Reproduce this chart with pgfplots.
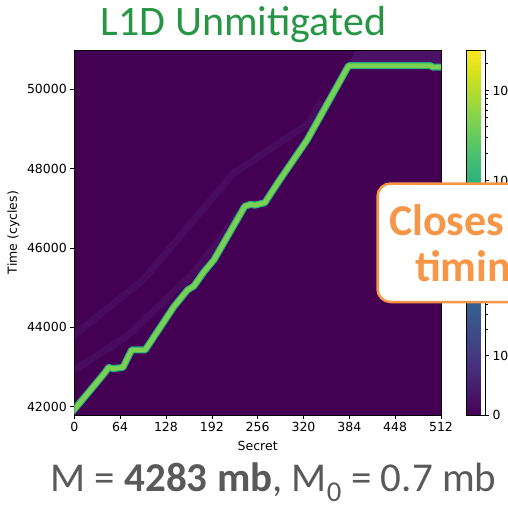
\documentclass[border=0pt]{standalone}
\usepackage{fontspec}
\usepackage{pgfplots}
\pgfplotsset{compat=1.18}
\newfontfamily\dejavu{DejaVu Sans}
\newfontfamily\carlito{Carlito}
\definecolor{vbg}{HTML}{440154}
\definecolor{vgreen}{HTML}{7AD151}
\definecolor{vteal}{HTML}{22A884}
\definecolor{ttl}{RGB}{38,150,68}
\definecolor{boxor}{RGB}{247,150,70}
\definecolor{txtgray}{RGB}{89,89,89}
\definecolor{faint}{RGB}{100,85,165}
\begin{document}
\begin{tikzpicture}[x=1pt,y=1pt]
\path[use as bounding box] (0,0) rectangle (508,-504);
\clip (0,0) rectangle (508,-504);
\begin{axis}[
  name=main,
  at={(74.3pt,-415pt)}, anchor=south west,
  scale only axis, width=366.7pt, height=365pt,
  xmin=0, xmax=512, ymin=41790, ymax=50990,
  xtick={0,64,...,512}, ytick={42000,44000,...,50000},
  scaled y ticks=false, scaled x ticks=false,
  xtick pos=bottom, ytick pos=left, tick align=outside,
  major tick length=4pt,
  tick style={black, line width=0.6pt},
  axis line style={black, line width=0.6pt},
  axis background/.style={fill=vbg},
  /pgf/number format/1000 sep={},
  /pgf/number format/assume math mode=true,
  tick label style={font=\dejavu\fontsize{12.5}{12.5}\selectfont},
  colormap/viridis,
  colorbar,
  point meta min=0, point meta max=365,
  colorbar shift/.style={xshift=25.7pt},
  colorbar style={
    at={(parent axis.north east)}, anchor=north west,
    scale only axis, width=18.3pt,
    ytick={0,60,145,235,325},
    yticklabels={0,10\textsuperscript{0},10\textsuperscript{1},10\textsuperscript{2},10\textsuperscript{3}},
    minor ytick={85.6,100.6,111.2,119.4,126.1,131.8,136.8,141.1,172.1,187.9,199.2,207.9,215,221.1,226.3,230.9,262.1,277.9,289.2,297.9,305,311.1,316.3,320.9,352.1},
    ytick pos=right, tick align=outside,
    major tick length=4pt, minor tick length=2.5pt,
    tick style={black, line width=0.6pt},
    axis line style={black, line width=0.6pt},
    yticklabel style={font=\dejavu\fontsize{12.5}{12.5}\selectfont},
    /pgf/number format/assume math mode=true,
  },
]
% faint secondary traces
\addplot[faint, opacity=0.13, line width=7pt, line join=round] coordinates {(-5,43750)(0,43807)(96,45193)(222,47882)(327,49143)(345,49700)};
\addplot[faint, opacity=0.13, line width=7pt, line join=round] coordinates {(-5,42870)(0,42924)(73,43765)(166,45361)(231,46900)};
% noise above top plateau
\addplot[fill=faint, draw=none, opacity=0.2] coordinates {(383,50600)(512,50600)(512,50960)(392,50960)} --cycle;
% main trace
\addplot[vteal, line width=7pt, line join=round] coordinates {
(-5,41820)(0,41930)(42,42840)(48,42990)(54,42960)(68,42990)(80,43430)(99,43430)
(139,44520)(158,44940)(167,45040)(181,45400)(195,45700)(238,47050)(246,47100)
(252,47080)(266,47140)(287,47720)(325,48720)(383,50595)(498,50595)(500,50560)(517,50560)};
\addplot[vgreen, line width=4.8pt, line join=round] coordinates {
(-5,41820)(0,41930)(42,42840)(48,42990)(54,42960)(68,42990)(80,43430)(99,43430)
(139,44520)(158,44940)(167,45040)(181,45400)(195,45700)(238,47050)(246,47100)
(252,47080)(266,47140)(287,47720)(325,48720)(383,50595)(498,50595)(500,50560)(517,50560)};
\end{axis}
\node[font=\carlito\fontsize{42}{42}\selectfont, text=ttl, anchor=base, inner sep=0] at (243.5,-35) {L1D Unmitigated};
\node[font=\dejavu\fontsize{12.5}{12.5}\selectfont, anchor=base, inner sep=0] at (257.7,-450) {Secret};
\node[font=\dejavu\fontsize{12.5}{12.5}\selectfont, rotate=90, anchor=center, inner sep=0] at (13.5,-232.5) {Time (cycles)};
\draw[boxor, line width=2.5pt, fill=white, rounded corners=13pt] (377.5,-183.5) rectangle (560,-302);
\node[font=\carlito\bfseries\fontsize{44}{44}\selectfont, text=boxor, anchor=base west, inner sep=0] at (389,-235) {Closes};
\node[font=\carlito\bfseries\fontsize{44}{44}\selectfont, text=boxor, anchor=base west, inner sep=0] at (415,-281) {timing};
\node[font=\carlito\fontsize{41}{41}\selectfont, text=txtgray, anchor=base, inner sep=0] at (273.5,-491) {M = \textbf{4283 mb}, M\textsubscript{0} = 0.7 mb};
\end{tikzpicture}
\end{document}
